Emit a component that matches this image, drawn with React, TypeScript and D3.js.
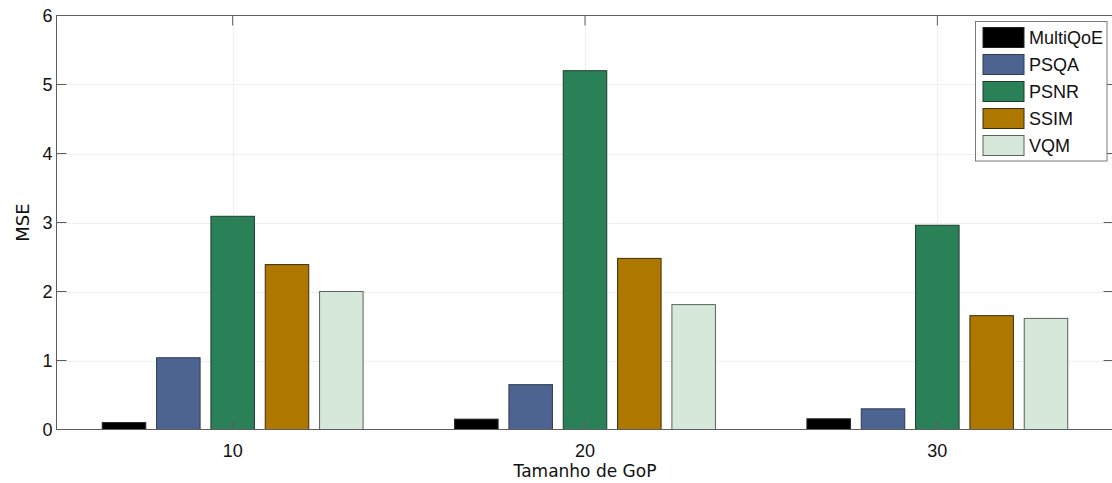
import React from "react";
import * as d3 from "d3";

const groups = [10, 20, 30];
const series = ["MultiQoE", "PSQA", "PSNR", "SSIM", "VQM"];
const colors = ["#000000", "#4d6491", "#2a8057", "#ad7700", "#d5e8da"];
const strokes = ["#222222", "#2e3b55", "#1f3d2c", "#3d2d10", "#5a625c"];
const multiQoE = [0.1, 0.15, 0.155];
const psqa = [1.04, 0.65, 0.3];
const psnr = [3.09, 5.2, 2.96];
const ssim = [2.39, 2.48, 1.65];
const vqm = [2.0, 1.81, 1.61];
const yTicks = [0, 1, 2, 3, 4, 5, 6];

const values = [multiQoE, psqa, psnr, ssim, vqm];

const W = 1112;
const H = 483;
const left = 56.5;
const right = 1113.5;
const top = 15.5;
const bottom = 429.5;

export default function App() {
  const x = d3.scaleLinear().domain([5, 35]).range([left, right]);
  const y = d3.scaleLinear().domain([0, 6]).range([bottom, top]);
  const step = 1.542; // spacing between bars inside a group (x units)
  const barW = 1.235; // bar width (x units)
  const tickFont = "'Liberation Sans', Arial, sans-serif";
  const labelFont = "'DejaVu Sans', sans-serif";

  const legendX = 975.5;
  const legendY = 21.5;
  const legendW = 131.5;
  const legendH = 139.5;
  const rowH = 27;

  return (
    <svg
      width={W}
      height={H}
      style={{ position: "absolute", left: 0, top: 0, background: "#fff" }}
    >
      <rect x={0} y={0} width={W} height={H} fill="#fff" />
      {/* grid */}
      {yTicks.slice(1, -1).map((t) => (
        <line
          key={"gy" + t}
          x1={left}
          x2={right}
          y1={Math.round(y(t)) + 0.5}
          y2={Math.round(y(t)) + 0.5}
          stroke="#e2e2e2"
          strokeDasharray="2,2"
          strokeWidth={1}
        />
      ))}
      {groups.map((g) => (
        <line
          key={"gx" + g}
          x1={Math.round(x(g)) + 0.5}
          x2={Math.round(x(g)) + 0.5}
          y1={top}
          y2={bottom}
          stroke="#e2e2e2"
          strokeDasharray="2,2"
          strokeWidth={1}
        />
      ))}
      {/* bars */}
      {values.map((vals, si) =>
        vals.map((v, gi) => {
          const cx = groups[gi] + (si - 2) * step;
          const x0 = x(cx - barW / 2);
          const x1 = x(cx + barW / 2);
          return (
            <rect
              key={si + "-" + gi}
              x={x0}
              y={y(v)}
              width={x1 - x0}
              height={y(0) - y(v)}
              fill={colors[si]}
              stroke={strokes[si]}
              strokeWidth={1}
            />
          );
        })
      )}
      {/* axes box */}
      <rect
        x={left}
        y={top}
        width={right - left}
        height={bottom - top}
        fill="none"
        stroke="#5e5e5e"
        strokeWidth={1}
      />
      {/* y ticks */}
      {yTicks.map((t) => (
        <g key={"yt" + t}>
          <line x1={left} x2={left + 10} y1={y(t)} y2={y(t)} stroke="#5e5e5e" />
          <line x1={right} x2={right - 10} y1={y(t)} y2={y(t)} stroke="#5e5e5e" />
          <text
            x={left - 4}
            y={y(t)}
            dy="0.36em"
            textAnchor="end"
            fontFamily={tickFont}
            fontSize={18}
            fill="#111"
          >
            {t}
          </text>
        </g>
      ))}
      {/* x ticks */}
      {groups.map((g) => (
        <g key={"xt" + g}>
          <line x1={x(g)} x2={x(g)} y1={top} y2={top + 10} stroke="#5e5e5e" />
          <line x1={x(g)} x2={x(g)} y1={bottom} y2={bottom - 10} stroke="#5e5e5e" />
          <text
            x={x(g)}
            y={bottom + 21}
            dy="0.36em"
            textAnchor="middle"
            fontFamily={tickFont}
            fontSize={18}
            fill="#111"
          >
            {g}
          </text>
        </g>
      ))}
      {/* axis labels */}
      <text
        x={(left + right) / 2}
        y={477}
        textAnchor="middle"
        fontFamily={labelFont}
        fontSize={17}
        fill="#111"
      >
        Tamanho de GoP
      </text>
      <text
        transform={`translate(29, ${(top + bottom) / 2}) rotate(-90)`}
        textAnchor="middle"
        fontFamily={labelFont}
        fontSize={18}
        fill="#111"
      >
        MSE
      </text>
      {/* legend */}
      <rect
        x={legendX}
        y={legendY}
        width={legendW}
        height={legendH}
        fill="#fff"
        stroke="#7a7a7a"
        strokeWidth={1}
      />
      {series.map((s, i) => {
        const cy = 37.5 + i * rowH;
        return (
          <g key={s}>
            <rect
              x={983}
              y={cy - 10}
              width={41}
              height={20}
              fill={colors[i]}
              stroke={strokes[i]}
              strokeWidth={1}
            />
            <text
              x={1029}
              y={cy}
              dy="0.36em"
              fontFamily={tickFont}
              fontSize={18}
              fill="#111"
            >
              {s}
            </text>
          </g>
        );
      })}
    </svg>
  );
}
